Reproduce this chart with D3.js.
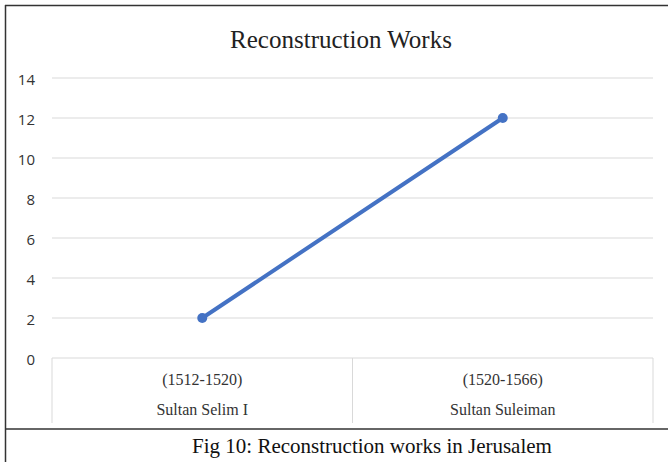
<!DOCTYPE html>
<html><head><meta charset="utf-8">
<script src="https://cdn.jsdelivr.net/npm/d3@7"></script>
<style>body{margin:0;background:#fff;}svg{display:block;}</style>
</head><body>
<svg id="c" width="668" height="462"></svg>
<script>
const categories = ["(1512-1520)", "(1520-1566)"];
const sultans = ["Sultan Selim I", "Sultan Suleiman"];
const values = [2, 12];
const yTicks = [0, 2, 4, 6, 8, 10, 12, 14];
const title = "Reconstruction Works";
const caption = "Fig 10: Reconstruction works in Jerusalem";

(function(){
const svg = d3.select("#c");
const serif = "'Liberation Serif', 'DejaVu Serif', serif";
const sans = "'Open Sans', 'Liberation Sans', sans-serif";

const pLeft = 52, pRight = 653, pTop = 78, pBottom = 358;
const x = d3.scaleBand().domain(categories).range([pLeft, pRight]).padding(0);
const y = d3.scaleLinear().domain([0, 14]).range([pBottom, pTop]);

// frame
svg.append("line").attr("x1",5.5).attr("x2",5.5).attr("y1",5).attr("y2",462).attr("stroke","#333").attr("stroke-width",1.5);
svg.append("line").attr("x1",5).attr("x2",668).attr("y1",5.5).attr("y2",5.5).attr("stroke","#333").attr("stroke-width",1.5);
svg.append("line").attr("x1",5).attr("x2",668).attr("y1",429).attr("y2",429).attr("stroke","#333").attr("stroke-width",1.5);

// title
svg.append("text").attr("x",341).attr("y",48).attr("text-anchor","middle")
  .style("font-family",serif).style("font-size","25px").attr("fill","#222").text(title);

// gridlines
svg.append("g").selectAll("line").data(yTicks.filter(d=>d>0)).join("line")
  .attr("x1",pLeft).attr("x2",pRight).attr("y1",d=>y(d)).attr("y2",d=>y(d))
  .attr("stroke","#d9d9d9").attr("stroke-width",1);

// y axis labels
const ya = svg.append("g").attr("transform",`translate(35,0)`)
  .call(d3.axisLeft(y).tickValues(yTicks).tickSize(0).tickPadding(0));
ya.select(".domain").remove();
ya.attr("font-size",null).attr("font-family",null);
ya.selectAll("text").style("font-family",sans).style("font-size","15px").attr("fill","#333")
  .attr("dy","0.42em");

// category box
svg.append("line").attr("x1",pLeft).attr("x2",pRight).attr("y1",pBottom).attr("y2",pBottom).attr("stroke","#d9d9d9");
const bounds = [pLeft, ...categories.slice(1).map(c=>x(c)), pRight];
svg.append("g").selectAll("line").data(bounds).join("line")
  .attr("x1",d=>d).attr("x2",d=>d).attr("y1",pBottom).attr("y2",423)
  .attr("stroke","#d9d9d9");

const cat = svg.append("g");
cat.selectAll("text.p").data(categories).join("text").attr("class","p")
  .attr("x",d=>x(d)+x.bandwidth()/2).attr("y",385).attr("text-anchor","middle")
  .style("font-family",serif).style("font-size","16px").attr("fill","#333").text(d=>d);
cat.selectAll("text.s").data(sultans).join("text").attr("class","s")
  .attr("x",(d,i)=>x(categories[i])+x.bandwidth()/2).attr("y",415).attr("text-anchor","middle")
  .style("font-family",serif).style("font-size","16px").attr("fill","#333").text(d=>d);

// line
const pts = categories.map((c,i)=>[x(c)+x.bandwidth()/2, y(values[i])]);
svg.append("path").datum(pts).attr("d",d3.line()).attr("fill","none")
  .attr("stroke","#4472c4").attr("stroke-width",4).attr("stroke-linecap","round");
svg.append("g").selectAll("circle").data(pts).join("circle")
  .attr("cx",d=>d[0]).attr("cy",d=>d[1]).attr("r",5).attr("fill","#4472c4");

// caption
svg.append("text").attr("x",372).attr("y",453).attr("text-anchor","middle")
  .style("font-family",serif).style("font-size","21px").attr("fill","#111").text(caption);
})();
</script>
</body></html>
